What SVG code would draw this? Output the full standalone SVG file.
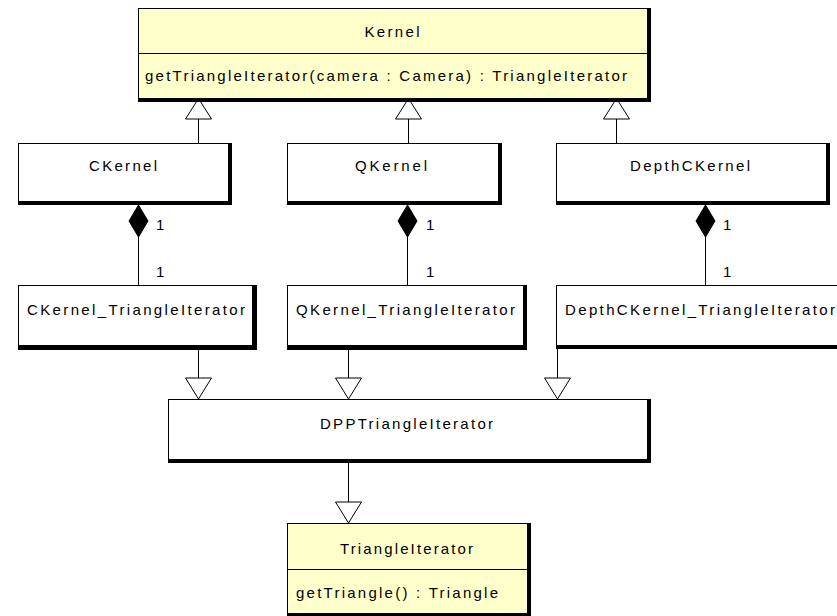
<svg xmlns="http://www.w3.org/2000/svg" width="837" height="616" viewBox="0 0 837 616">
<style>
  text { font-family: "Liberation Sans", Arial, sans-serif; font-size: 15px; fill: #000; }
  .shadow { fill: #000; }
  .box { fill: #fff; stroke: #000; stroke-width: 1; }
  .ybox { fill: #ffffcc; stroke: #000; stroke-width: 1; }
  .line { stroke: #000; stroke-width: 1; fill: none; }
  .tri { fill: #fff; stroke: #000; stroke-width: 1; }
  .dia { fill: #000; stroke: #000; stroke-width: 1; }
</style>
<rect width="837" height="616" fill="#fff"/>

<g id="connectors">
  <!-- generalizations to Kernel -->
  <line class="line" x1="198.5" y1="119" x2="198.5" y2="143"/>
  <polygon class="tri" points="198.5,98.5 185.5,119 211.5,119"/>
  <line class="line" x1="408.5" y1="119" x2="408.5" y2="143"/>
  <polygon class="tri" points="408.5,98.5 395.5,119 421.5,119"/>
  <line class="line" x1="616.5" y1="119" x2="616.5" y2="143"/>
  <polygon class="tri" points="616.5,98.5 603.5,119 629.5,119"/>
  <!-- compositions -->
  <line class="line" x1="138.5" y1="237" x2="138.5" y2="285"/>
  <polygon class="dia" points="138.5,205 148,221 138.5,237 129,221"/>
  <line class="line" x1="407.5" y1="237" x2="407.5" y2="285"/>
  <polygon class="dia" points="407.5,205 417,221 407.5,237 398,221"/>
  <line class="line" x1="705.5" y1="237" x2="705.5" y2="285"/>
  <polygon class="dia" points="705.5,205 715,221 705.5,237 696,221"/>
  <text x="156" y="230">1</text>
  <text x="156" y="277">1</text>
  <text x="426" y="230">1</text>
  <text x="426" y="277">1</text>
  <text x="723" y="230">1</text>
  <text x="723" y="277">1</text>
  <!-- generalizations to DPPTriangleIterator -->
  <line class="line" x1="198.5" y1="349" x2="198.5" y2="378"/>
  <polygon class="tri" points="198.5,399 185.5,378 211.5,378"/>
  <line class="line" x1="348.5" y1="349" x2="348.5" y2="378"/>
  <polygon class="tri" points="348.5,399 335.5,378 361.5,378"/>
  <line class="line" x1="557.5" y1="349" x2="557.5" y2="378"/>
  <polygon class="tri" points="557.5,399 544.5,378 570.5,378"/>
  <!-- generalization to TriangleIterator -->
  <line class="line" x1="348.5" y1="463" x2="348.5" y2="502"/>
  <polygon class="tri" points="348.5,523 335.5,502 361.5,502"/>
</g>

<g id="Kernel">
  <rect class="shadow" x="138" y="8" width="513" height="94"/>
  <rect class="ybox" x="138.5" y="8.5" width="509" height="90"/>
  <line class="line" x1="138.5" y1="53.5" x2="647.5" y2="53.5"/>
  <text x="392" y="37" text-anchor="middle" textLength="55" lengthAdjust="spacing">Kernel</text>
  <text x="145" y="81" textLength="482" lengthAdjust="spacing">getTriangleIterator(camera : Camera) : TriangleIterator</text>
</g>

<g id="CKernel">
  <rect class="shadow" x="18" y="143" width="214" height="62"/>
  <rect class="box" x="18.5" y="143.5" width="210" height="58"/>
  <text x="123" y="171" text-anchor="middle" textLength="68" lengthAdjust="spacing">CKernel</text>
</g>

<g id="QKernel">
  <rect class="shadow" x="287" y="143" width="215" height="62"/>
  <rect class="box" x="287.5" y="143.5" width="211" height="58"/>
  <text x="391" y="171" text-anchor="middle" textLength="72" lengthAdjust="spacing">QKernel</text>
</g>

<g id="DepthCKernel">
  <rect class="shadow" x="556" y="143" width="274" height="62"/>
  <rect class="box" x="556.5" y="143.5" width="270" height="58"/>
  <text x="690" y="171" text-anchor="middle" textLength="120" lengthAdjust="spacing">DepthCKernel</text>
</g>

<g id="CKernel_TriangleIterator">
  <rect class="shadow" x="18" y="285" width="239" height="65"/>
  <rect class="box" x="18.5" y="285.5" width="234" height="60"/>
  <text x="27" y="315" textLength="218" lengthAdjust="spacing">CKernel_TriangleIterator</text>
</g>

<g id="QKernel_TriangleIterator">
  <rect class="shadow" x="287" y="285" width="240" height="65"/>
  <rect class="box" x="287.5" y="285.5" width="236" height="60"/>
  <text x="296" y="315" textLength="219" lengthAdjust="spacing">QKernel_TriangleIterator</text>
</g>

<g id="DepthCKernel_TriangleIterator">
  <rect class="shadow" x="556" y="285" width="300" height="64"/>
  <rect class="box" x="556.5" y="285.5" width="300" height="60"/>
  <text x="565" y="315" textLength="270" lengthAdjust="spacing">DepthCKernel_TriangleIterator</text>
</g>

<g id="DPPTriangleIterator">
  <rect class="shadow" x="168" y="399" width="483" height="64"/>
  <rect class="box" x="168.5" y="399.5" width="479" height="60"/>
  <text x="320" y="429" textLength="173" lengthAdjust="spacing">DPPTriangleIterator</text>
</g>

<g id="TriangleIterator">
  <rect class="shadow" x="287" y="523" width="244" height="95"/>
  <rect class="ybox" x="287.5" y="523.5" width="240" height="90"/>
  <line class="line" x1="287.5" y1="569.5" x2="527.5" y2="569.5"/>
  <text x="340" y="554" textLength="133" lengthAdjust="spacing">TriangleIterator</text>
  <text x="296" y="598" textLength="202" lengthAdjust="spacing">getTriangle() : Triangle</text>
</g>
</svg>
